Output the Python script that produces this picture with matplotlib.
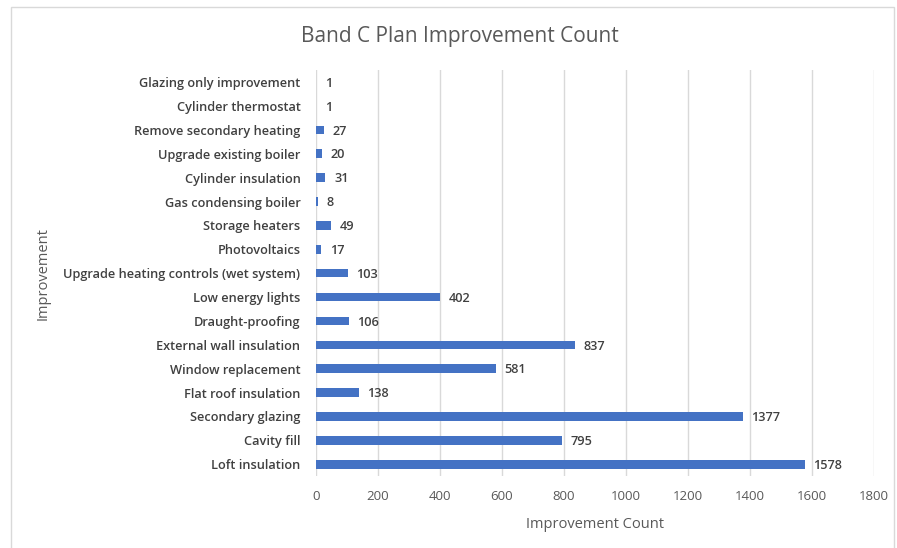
import matplotlib.pyplot as plt
from matplotlib.patches import Rectangle

# data (top to bottom as shown in the chart)
categories = ['Glazing only improvement', 'Cylinder thermostat', 'Remove secondary heating',
              'Upgrade existing boiler', 'Cylinder insulation', 'Gas condensing boiler',
              'Storage heaters', 'Photovoltaics', 'Upgrade heating controls (wet system)',
              'Low energy lights', 'Draught-proofing', 'External wall insulation',
              'Window replacement', 'Flat roof insulation', 'Secondary glazing',
              'Cavity fill', 'Loft insulation']
counts = [1, 1, 27, 20, 31, 8, 49, 17, 103, 402, 106, 837, 581, 138, 1377, 795, 1578]
xticks = [0, 200, 400, 600, 800, 1000, 1200, 1400, 1600, 1800]

plt.rcParams['font.family'] = ['Open Sans', 'DejaVu Sans']
txt = '#595959'
bar_col = '#4472C4'

fig = plt.figure(figsize=(8.97, 5.48), dpi=100)
# light chart border
fig.patches.append(Rectangle((0.012, -0.01), 0.985, 0.998, transform=fig.transFigure,
                             fill=False, edgecolor='#D9D9D9', linewidth=1))

ax = fig.add_axes([0.352, 0.131, 0.622, 0.741])
y = list(range(len(categories)))
ax.barh(y, counts, height=0.36, color=bar_col)
ax.set_ylim(len(categories) - 0.5, -0.5)
ax.set_xlim(0, 1800)
ax.set_xticks(xticks)
ax.set_yticks(y)
ax.set_yticklabels(categories, fontsize=9.2, color='#404040', fontweight='semibold')
ax.tick_params(axis='x', labelsize=9.5, colors=txt, length=0, pad=10)
ax.tick_params(axis='y', length=0, pad=11)
ax.grid(axis='x', color='#D9D9D9', linewidth=1)
ax.set_axisbelow(True)
for s in ax.spines.values():
    s.set_visible(False)

for yi, v in zip(y, counts):
    ax.text(v + 28, yi + 0.05, str(v), va='center', ha='left', fontsize=9.2,
            color='#404040', fontweight='semibold')

ax.set_xlabel('Improvement Count', fontsize=10.5, color=txt, labelpad=10)
fig.text(0.048, 0.5, 'Improvement', rotation=90, fontsize=10.5, color=txt,
         ha='center', va='center')
fig.text(0.513, 0.934, 'Band C Plan Improvement Count', fontsize=15, color=txt,
         ha='center', va='center')

fig.savefig('out.png', dpi=100, facecolor='white')
